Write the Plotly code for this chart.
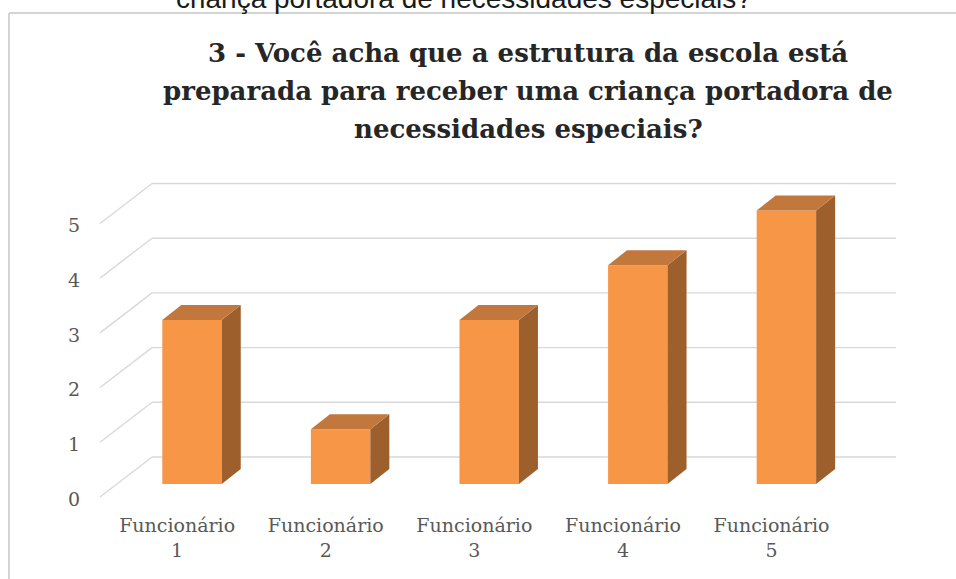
import plotly.graph_objects as go

# dados do grafico
categorias = ["Funcionário<br>1", "Funcionário<br>2", "Funcionário<br>3", "Funcionário<br>4", "Funcionário<br>5"]
valores = [3, 1, 3, 4, 5]
ticks_y = [0, 1, 2, 3, 4, 5]
titulo = ["3 - Você acha que a estrutura da escola está",
          "preparada para receber uma criança portadora de",
          "necessidades especiais?"]
texto_cortado = "criança portadora de necessidades especiais?"

W, H = 956, 579
L, R, T, B = 86, 935, 167, 512

# "profundidade" em unidades dos eixos
fx, fy = 0.35, 0.731      # chao / paredes
bx, by = 0.128, 0.274     # barras
fundo_y = 0.494           # deslocamento da parede de fundo
frente_x0 = 0.381
parede_x1 = 5.738
larg = 0.4

laranja = "#F79646"
topo = "#C2773C"
lado = "#9D5F2C"
grade = "#D9D9D9"

def px(x):
    return (x - L) / (R - L)

def py(y):
    return (B - y) / (B - T)

fig = go.Figure()

# linhas de grade (parede do fundo + diagonais da parede lateral), por baixo das barras
for v in ticks_y:
    fig.add_shape(type="line", xref="x", yref="y", layer="below",
                  x0=frente_x0, y0=v + fundo_y - fy, x1=frente_x0 + fx, y1=v + fundo_y,
                  line=dict(color=grade, width=1.4))
    fig.add_shape(type="line", xref="x", yref="y", layer="below",
                  x0=frente_x0 + fx, y0=v + fundo_y, x1=parede_x1, y1=v + fundo_y,
                  line=dict(color=grade, width=1.4))

xs = list(range(1, len(valores) + 1))

# faces lateral e superior
for c, v in zip(xs, valores):
    x0, x1 = c - larg / 2, c + larg / 2
    fig.add_trace(go.Scatter(x=[x1, x1 + bx, x1 + bx, x1, x1], y=[0, by, v + by, v, 0],
                             fill="toself", fillcolor=lado, mode="lines",
                             line=dict(width=0, color=lado), hoverinfo="skip"))
    fig.add_trace(go.Scatter(x=[x0, x1, x1 + bx, x0 + bx, x0], y=[v, v, v + by, v + by, v],
                             fill="toself", fillcolor=topo, mode="lines",
                             line=dict(width=0, color=topo), hoverinfo="skip"))

# face frontal
fig.add_trace(go.Bar(x=xs, y=valores, width=larg, marker=dict(color=laranja, line=dict(width=0)),
                     hoverinfo="skip"))

fonte_eixo = dict(family="DejaVu Serif", size=19, color="#595959")

fig.update_layout(
    width=W, height=H,
    margin=dict(l=L, r=W - R, t=T, b=H - B, pad=0),
    paper_bgcolor="white", plot_bgcolor="white",
    showlegend=False,
    xaxis=dict(range=[1 - 106 / 148.6, 1 + 743 / 148.6], tickvals=[c - 0.1 for c in xs],
               ticktext=categorias, showgrid=False, zeroline=False, showline=False,
               ticks="", tickfont=fonte_eixo),
    yaxis=dict(range=[-(B - 484) / 54.7, (484 - T) / 54.7],
               tickvals=[v + fundo_y - fy - 0.04 for v in ticks_y],
               ticktext=[str(v) for v in ticks_y], showgrid=False, zeroline=False,
               showline=False, ticks="", tickfont=fonte_eixo, ticklabelstandoff=5),
)

# titulo
for linha, yc in zip(titulo, [53, 91, 129]):
    fig.add_annotation(text=linha, xref="paper", yref="paper", x=px(528), y=py(yc),
                       showarrow=False, xanchor="center", yanchor="middle",
                       font=dict(family="DejaVu Serif", size=26, color="#262626", weight="bold"))

# texto cortado no topo
fig.add_annotation(text=texto_cortado, xref="paper", yref="paper", x=px(464), y=py(15.5),
                   showarrow=False, xanchor="center", yanchor="bottom",
                   font=dict(family="Liberation Sans", size=28, color="#1a1a1a"))

# moldura
fig.add_shape(type="line", xref="paper", yref="paper", x0=px(9), x1=px(9), y0=py(13), y1=py(H + 5),
              line=dict(color="#D4D4D4", width=2))
fig.add_shape(type="line", xref="paper", yref="paper", x0=px(9), x1=px(W + 5), y0=py(13), y1=py(13),
              line=dict(color="#D4D4D4", width=2))

# tira a margem padrao do body para a figura ficar em (0, 0)
fig.write_html("out.html", config={"displayModeBar": False},
               post_script="document.body.style.margin = '0px';")
